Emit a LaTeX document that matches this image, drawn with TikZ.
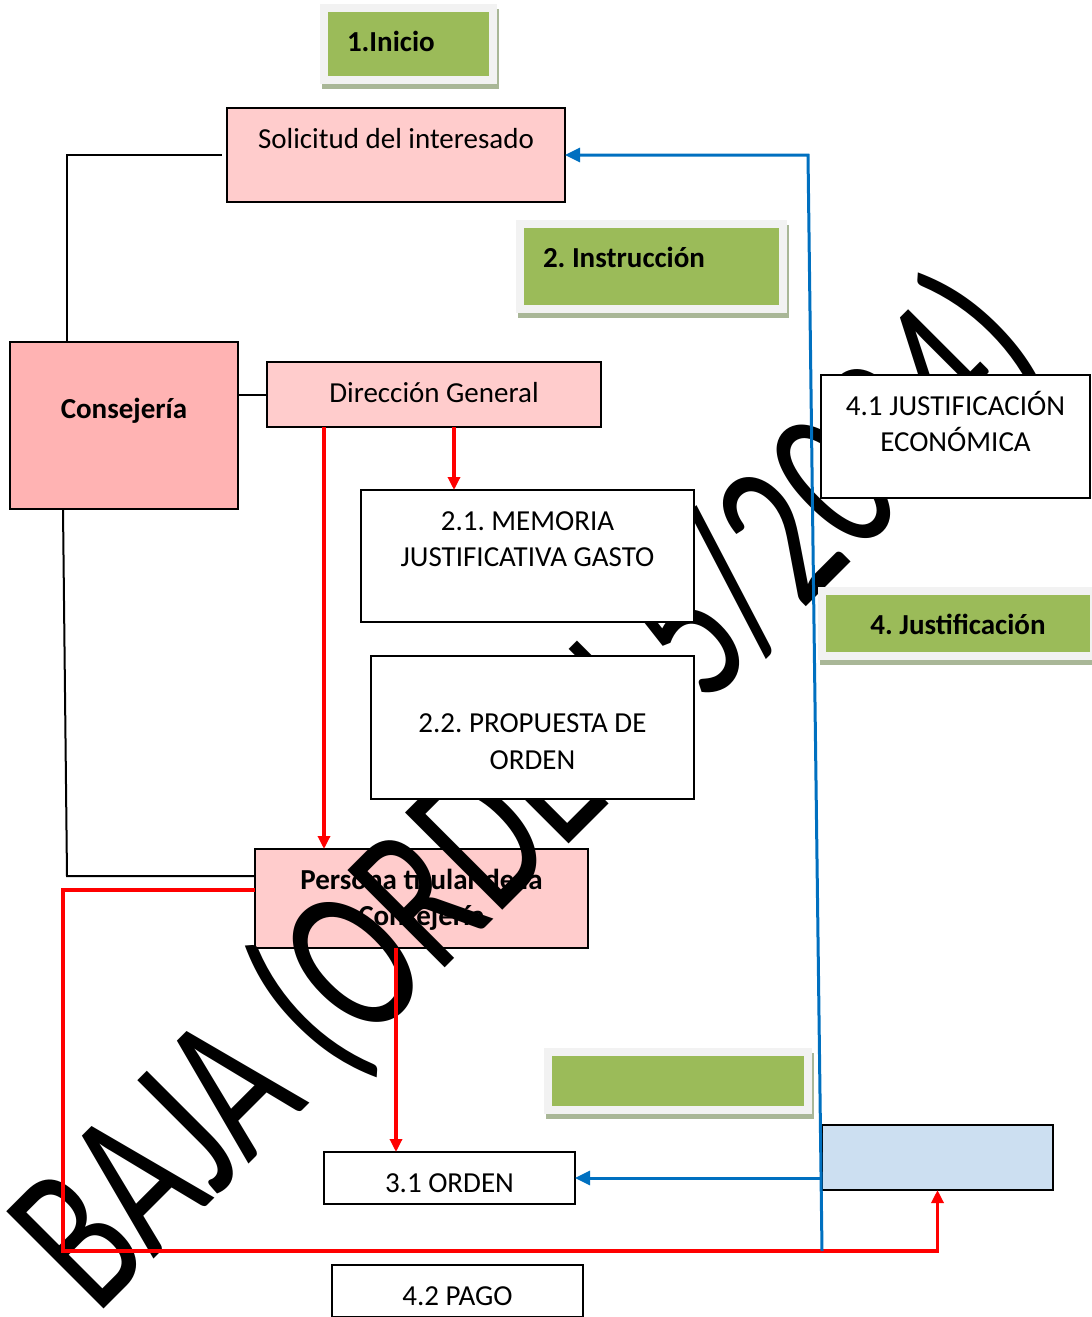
\documentclass[tikz,border=0pt]{standalone}
\usepackage{fontspec}
\setmainfont{Carlito}
\usepackage{xcolor}
\usepackage{tikz}
\usetikzlibrary{arrows.meta, calc}
\definecolor{rosa}{HTML}{FFCCCC}
\definecolor{rosafuerte}{HTML}{FFB3B3}
\definecolor{verde}{HTML}{9BBB59}
\definecolor{marco}{HTML}{F2F2F2}
\definecolor{sombra}{HTML}{A9B797}
\definecolor{celeste}{HTML}{CCDFF1}
\definecolor{rojo}{HTML}{FF0000}
\definecolor{azulweb}{HTML}{0070C0}
\frenchspacing

% text pinned to the top of a box, as in the original text boxes
\newcommand{\cajatxt}[3]{\parbox[c][#2][t]{#1}{\centering\rule{0pt}{40pt}#3}}
\newcommand{\etapatxt}[4]{\parbox[c][#2][t]{#1}{#3\rule{0pt}{43pt}\textbf{#4}}}

\begin{document}
\begin{tikzpicture}[x=1pt, y=-1pt,
    font=\fontsize{29}{36.5}\selectfont,
    caja/.style={draw=black, line width=1.6pt, fill=white, inner sep=0pt, outer sep=0pt,
        anchor=north west},
    etapa/.style={draw=marco, line width=8pt, fill=verde, inner sep=0pt, outer sep=0pt,
        anchor=north west,
        preaction={draw=sombra, fill=sombra, line width=8pt,
                   transform canvas={shift={(2pt,-5pt)}}}},
    linea/.style={draw=black, line width=2pt},
    flecharoja/.style={draw=rojo, line width=3.2pt, -{Triangle[length=13pt, width=12pt]}},
    flechaazul/.style={draw=azulweb, line width=3pt, -{Triangle[length=15pt, width=14pt]}}]

    \useasboundingbox (0,0) rectangle (1092,1317);

    % watermark
    \node[rotate=45, yscale=1.42, transform shape, anchor=base west, inner sep=0pt,
          font=\fontsize{151}{151}\selectfont] (marca) at (96,1317) {BAJA (ORDEN 5/2024)};

    % stages
    \node[etapa] (inicio) at (324,8) {\etapatxt{169pt}{72pt}{\hspace*{23pt}}{1.Inicio}};
    \node[etapa] (instruccion) at (520,224) {\etapatxt{263pt}{85pt}{\hspace*{23pt}}{2. Instrucción}};
    \node[etapa] (justificacion) at (822,591) {\etapatxt{272pt}{65pt}{\centering}{4. Justificación}};
    \node[etapa] (resolucion) at (548,1052) {\etapatxt{260pt}{58pt}{}{}};

    % boxes
    \node[caja, fill=rosa] (solicitud) at (227,108) {\cajatxt{338pt}{94pt}{Solicitud del interesado}};
    \node[caja, fill=rosafuerte] (consejeria) at (10,342) {\cajatxt{228pt}{167pt}{\\\textbf{Consejería}}};
    \node[caja, fill=rosa] (direccion) at (267,362) {\cajatxt{334pt}{65pt}{Dirección General}};
    \node[caja] (memoria) at (361,490) {\cajatxt{333pt}{132pt}{2.1. MEMORIA\\JUSTIFICATIVA GASTO}};
    \node[caja] (propuesta) at (371,656) {\cajatxt{323pt}{143pt}{\\2.2. PROPUESTA DE\\ORDEN}};
    \node[caja, fill=rosa, blend mode=multiply] (persona) at (255,849)
        {\cajatxt{333pt}{99pt}{\textbf{Persona titular de la\\Consejería}}};
    \node[caja] (orden) at (324,1152) {\cajatxt{251pt}{52pt}{3.1 ORDEN}};
    \node[caja] (pago) at (332,1265) {\cajatxt{251pt}{52pt}{4.2 PAGO}};
    \node[caja] (economica) at (821,375) {\cajatxt{269pt}{123pt}{4.1 JUSTIFICACIÓN\\ECONÓMICA}};
    \node[caja, fill=celeste] (azul) at (822,1125) {\cajatxt{231pt}{65pt}{}};

    % black links
    \coordinate (c1) at ([xshift=57pt]consejeria.north west);
    \coordinate (c2) at ([xshift=53pt]consejeria.south west);
    \coordinate (c3) at (67,876);
    \draw[linea] (c1) |- ([xshift=-5pt]solicitud.west);
    \draw[linea] (consejeria.east |- direccion.west) -- (direccion.west);
    \draw[linea] (c2) -- (c3) -- (c3 -| persona.west);

    % red arrows
    \coordinate (d1) at ([xshift=57pt]direccion.south west);
    \coordinate (d2) at ([xshift=187pt]direccion.south west);
    \coordinate (p1) at ([xshift=141pt]persona.south west);
    \coordinate (p2) at ([yshift=-41pt]persona.north west);
    \coordinate (r1) at (63,1251);
    \draw[flecharoja] (d1) -- (d1 |- persona.north);
    \draw[flecharoja] (d2) -- (d2 |- memoria.north);
    \draw[flecharoja] (p1) -- (p1 |- orden.north);
    \draw[flecharoja] (p2) -| (r1) -| (azul.south);

    % blue arrows
    \coordinate (b0) at (822,1251);
    \coordinate (b1) at (808,155);
    \draw[flechaazul] (b0) -- (b1) -- (solicitud.east);
    \draw[flechaazul] (orden.east -| azul.west) -- (orden.east);
\end{tikzpicture}
\end{document}
